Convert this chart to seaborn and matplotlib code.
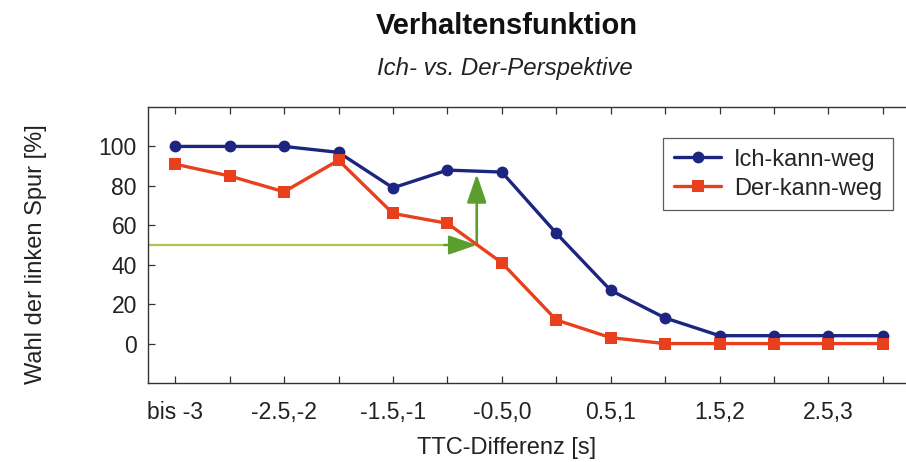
import matplotlib
matplotlib.use("Agg")
import matplotlib.pyplot as plt
import seaborn as sns
import pandas as pd

# TTC difference bins (every bin has a point, every other bin gets a label)
bins = ["bis -3", "-3,-2.5", "-2.5,-2", "-2,-1.5", "-1.5,-1", "-1,-0.5", "-0.5,0",
        "0,0.5", "0.5,1", "1,1.5", "1.5,2", "2,2.5", "2.5,3", "3,3.5"]
tick_labels = ["bis -3", "", "-2.5,-2", "", "-1.5,-1", "", "-0.5,0",
               "", "0.5,1", "", "1.5,2", "", "2.5,3", ""]

ich_kann_weg = [100, 100, 100, 97, 79, 88, 87, 56, 27, 13, 4, 4, 4, 4]
der_kann_weg = [91, 85, 77, 93, 66, 61, 41, 12, 3, 0, 0, 0, 0, 0]

series_names = ["Ich-kann-weg", "Der-kann-weg"]
series_colors = {"Ich-kann-weg": "#1c2580", "Der-kann-weg": "#e8401c"}

# 50 % threshold and the shift between the two perspectives
threshold = 50
threshold_x = 5.54
ich_at_threshold = 86

df = pd.DataFrame({
    "pos": list(range(len(bins))) * 2,
    "value": ich_kann_weg + der_kann_weg,
    "series": [series_names[0]] * len(bins) + [series_names[1]] * len(bins),
})

sns.set_theme(style="white")
plt.rcParams["font.family"] = ["Liberation Sans", "DejaVu Sans"]

fig = plt.figure(figsize=(9.06, 4.62), dpi=100)
ax = fig.add_axes([148 / 906, 1 - 383 / 462, 762 / 906, 276 / 462])

sns.lineplot(data=df, x="pos", y="value", hue="series", style="series",
             hue_order=series_names, style_order=series_names,
             palette=series_colors,
             markers={"Ich-kann-weg": "o", "Der-kann-weg": "s"},
             dashes=False, linewidth=2.4, markersize=8.5,
             markeredgewidth=0, ax=ax, zorder=3)

# threshold guide line and arrows
green_light = "#a9c64a"
green_dark = "#5b9e2e"
ax.plot([-0.5, threshold_x - 0.3], [threshold, threshold], color=green_light,
        linewidth=1.6, zorder=2)
ax.annotate("", xy=(threshold_x, threshold), xytext=(threshold_x - 0.6, threshold),
            arrowprops=dict(arrowstyle="-|>,head_length=1.75,head_width=0.6",
                            mutation_scale=10, color=green_dark, linewidth=1.6,
                            shrinkA=0, shrinkB=0), zorder=2)
ax.annotate("", xy=(threshold_x, ich_at_threshold), xytext=(threshold_x, threshold),
            arrowprops=dict(arrowstyle="-|>,head_length=1.75,head_width=0.6",
                            mutation_scale=10, color=green_dark, linewidth=1.9,
                            shrinkA=0, shrinkB=0), zorder=2)

ax.set_xlim(-0.5, 13.5)
ax.set_ylim(-20, 120)
ax.set_xticks(range(len(bins)))
ax.set_xticklabels(tick_labels)
ax.set_yticks([0, 20, 40, 60, 80, 100])

ax.tick_params(axis="x", direction="in", top=True, bottom=True, length=5,
               width=0.9, color="#333333", labelsize=16.5, pad=13)
ax.tick_params(axis="y", direction="in", left=True, length=5, width=0.9,
               color="#333333", labelsize=16.5, pad=8)
for side in ["left", "bottom", "top", "right"]:
    ax.spines[side].set_color("#333333")
    ax.spines[side].set_linewidth(1.0)

ax.set_xlabel("TTC-Differenz [s]", fontsize=17, color="#222222")
ax.xaxis.set_label_coords((507 - 148) / 762, -(437 - 383) / 276)
ax.set_ylabel("Wahl der linken Spur [%]", fontsize=17, color="#222222")
ax.yaxis.set_label_coords((47 - 148) / 762, (383 - 254) / 276)

for lbl in ax.get_xticklabels() + ax.get_yticklabels():
    lbl.set_color("#222222")

leg = ax.legend(loc="upper right", bbox_to_anchor=(893 / 906, 1 - 138 / 462),
                bbox_transform=fig.transFigure, fontsize=17, frameon=True,
                fancybox=False, edgecolor="#333333", handlelength=2.0,
                handletextpad=0.55, borderpad=0.45, labelspacing=0.3,
                borderaxespad=0)
leg.get_frame().set_linewidth(0.9)

fig.text(507 / 906, 1 - 34 / 462, "Verhaltensfunktion", ha="center",
         va="baseline", fontsize=21, fontweight="bold", color="#111111")
fig.text(505 / 906, 1 - 75 / 462, "Ich- vs. Der-Perspektive", ha="center",
         va="baseline", fontsize=17.3, fontstyle="italic", color="#222222")

fig.savefig("out.png", dpi=100, facecolor="white")
